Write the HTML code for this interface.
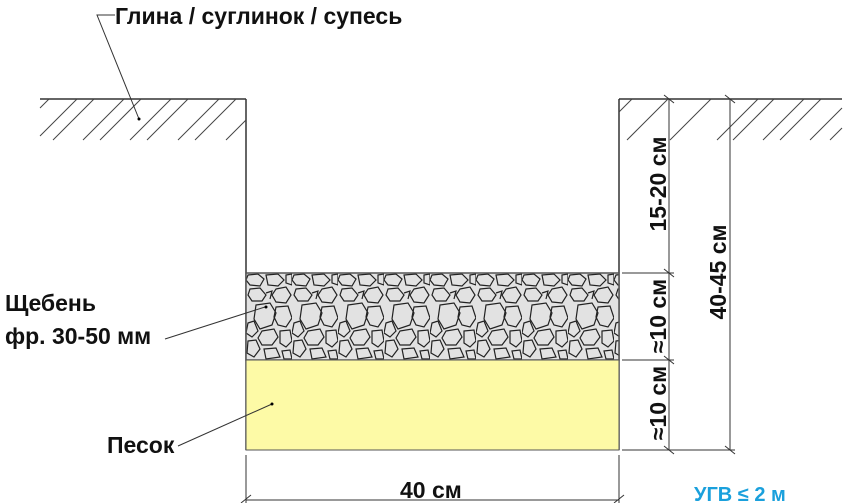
<!DOCTYPE html>
<html><head><meta charset="utf-8"><style>
body{margin:0;background:#fff}
svg{display:block}
text{font-family:"Liberation Sans",sans-serif;font-size:23px;font-weight:bold;fill:#111}
</style></head><body>
<svg width="850" height="503" viewBox="0 0 850 503" xmlns="http://www.w3.org/2000/svg">
<defs>
<pattern id="g" width="46" height="87" patternUnits="userSpaceOnUse" x="246" y="273">
<rect width="46" height="87" fill="#e2e2e2"/>
<g fill="none" stroke="#222" stroke-width="1.2">
<polygon points="2,2 12,1 18,6 14,13 4,12 0,7"/>
<polygon points="20,2 32,1 38,7 32,13 22,12"/>
<polygon points="40,2 46,1 46,12 40,10"/>
<polygon points="30,16 40,14 45,22 40,30 30,29 26,22"/>
<polygon points="4,16 14,15 20,22 16,28 6,28 2,22"/>
<polygon points="10,32 24,30 30,40 26,52 14,56 8,46"/>
<polygon points="30,34 42,33 46,45 40,54 32,52 28,44"/>
<polygon points="2,50 8,48 12,58 6,64 0,60"/>
<polygon points="16,58 28,56 32,64 26,72 16,72 12,65"/>
<polygon points="34,58 44,57 46,68 40,74 34,70"/>
<polygon points="2,68 10,67 14,76 8,84 1,80"/>
<polygon points="18,76 30,75 34,84 20,86"/>
<polygon points="36,78 44,77 46,86 38,86"/>
<polyline points="20,20 26,18 24,26"/>
</g>
</pattern>
</defs>
<g stroke="#333" stroke-width="1.5" fill="none">
<line x1="40" y1="99" x2="246" y2="99"/>
<line x1="246" y1="99" x2="246" y2="450"/>
<line x1="619" y1="99" x2="842" y2="99"/>
<line x1="619" y1="99" x2="619" y2="450"/>
</g>
<g stroke="#444" stroke-width="1">
<line x1="40" y1="108" x2="49" y2="99"/><line x1="40" y1="136" x2="77" y2="99"/>
<line x1="53" y1="140" x2="94" y2="99"/><line x1="83" y1="140" x2="124" y2="99"/>
<line x1="100" y1="140" x2="141" y2="99"/><line x1="130" y1="140" x2="171" y2="99"/>
<line x1="147" y1="140" x2="188" y2="99"/><line x1="178" y1="140" x2="219" y2="99"/>
<line x1="195" y1="140" x2="236" y2="99"/><line x1="226" y1="140" x2="246" y2="120"/>
<line x1="619" y1="112" x2="632" y2="99"/><line x1="627" y1="140" x2="668" y2="99"/>
<line x1="670" y1="140" x2="711" y2="99"/><line x1="717" y1="140" x2="758" y2="99"/>
<line x1="733" y1="140" x2="774" y2="99"/><line x1="763" y1="140" x2="804" y2="99"/>
<line x1="780" y1="140" x2="821" y2="99"/><line x1="810" y1="140" x2="842" y2="108"/>
<line x1="830" y1="140" x2="842" y2="128"/>
</g>
<rect x="246" y="273" width="373" height="87" fill="url(#g)" stroke="#555" stroke-width="1.5"/>
<rect x="246" y="360" width="373" height="90" fill="#fdfaa6" stroke="#555" stroke-width="1"/>
<g stroke="#333" stroke-width="1">
<line x1="669" y1="99" x2="669" y2="450"/>
<line x1="730" y1="99" x2="730" y2="450"/>
<line x1="622" y1="273" x2="674" y2="273"/>
<line x1="622" y1="360" x2="674" y2="360"/>
<line x1="622" y1="450" x2="735" y2="450"/>
<line x1="664" y1="95" x2="674" y2="103"/><line x1="725" y1="95" x2="735" y2="103"/>
<line x1="664" y1="269" x2="674" y2="277"/><line x1="664" y1="356" x2="674" y2="364"/>
<line x1="664" y1="446" x2="674" y2="454"/><line x1="725" y1="446" x2="735" y2="454"/>
<line x1="246" y1="455" x2="246" y2="503"/><line x1="619" y1="455" x2="619" y2="503"/>
<line x1="246" y1="500" x2="619" y2="500"/>
<line x1="241" y1="503" x2="251" y2="495"/><line x1="614" y1="503" x2="624" y2="495"/>
<polyline points="115,15 97,15 139,119" fill="none"/>
<line x1="165" y1="339" x2="265" y2="307"/>
<line x1="178" y1="446" x2="272" y2="404"/>
</g>
<circle cx="139" cy="119" r="1.5" fill="#000"/><circle cx="266" cy="307" r="1.5" fill="#000"/><circle cx="272" cy="404" r="1.5" fill="#000"/>
<text x="115" y="24">Глина / суглинок / супесь</text>
<text x="5" y="311">Щебень</text>
<text x="5" y="344">фр. 30-50 мм</text>
<text x="107" y="453">Песок</text>
<text x="400" y="498">40 см</text>
<text x="694" y="501" style="fill:#1aa0dc;font-size:20px">УГВ ≤ 2 м</text>
<text transform="translate(666,184) rotate(-90)" text-anchor="middle">15-20 см</text>
<text transform="translate(666,316) rotate(-90)" text-anchor="middle">≈10 см</text>
<text transform="translate(666,403) rotate(-90)" text-anchor="middle">≈10 см</text>
<text transform="translate(726,272) rotate(-90)" text-anchor="middle">40-45 см</text>
</svg>
</body></html>
